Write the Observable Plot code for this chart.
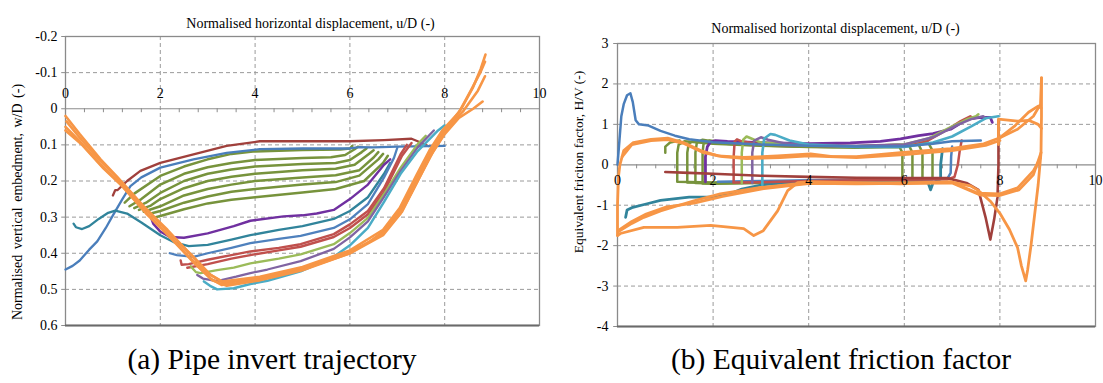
<!DOCTYPE html>
<html><head><meta charset="utf-8">
<script src="https://cdn.jsdelivr.net/npm/d3@7"></script>
<script src="https://cdn.jsdelivr.net/npm/@observablehq/plot@0.6"></script>
<style>
body{margin:0;background:#fff;font-family:"Liberation Serif","Times New Roman",Times,"DejaVu Serif",serif;}
#wrap{position:relative;width:1103px;height:383px;overflow:hidden;}
.panel{position:absolute;top:0;}
.panel svg text{font-family:"Liberation Serif","Times New Roman",Times,"DejaVu Serif",serif;}
.cap{position:absolute;top:342px;font-size:29.5px;line-height:34px;white-space:nowrap;transform:translateX(-50%);color:#000;}
</style></head><body>
<div id="wrap">
  <div id="pa" class="panel" style="left:0px"></div>
  <div id="pb" class="panel" style="left:552px"></div>
  <div class="cap" style="left:272px">(a) Pipe invert trajectory</div>
  <div class="cap" style="left:841px">(b) Equivalent friction factor</div>
</div>
<script>
// ---------- Tick values / labels ----------
const xTicks = [0, 2, 4, 6, 8, 10];
const xMinor = [0.4,0.8,1.2,1.6,2.4,2.8,3.2,3.6,4.4,4.8,5.2,5.6,6.4,6.8,7.2,7.6,8.4,8.8,9.2,9.6];
const aYTicks = [-0.2,-0.1,0,0.1,0.2,0.3,0.4,0.5,0.6];
const aYLabels = ["-0.2","-0.1","0","0.1","0.2","0.3","0.4","0.5","0.6"];
const bYTicks = [3,2,1,0,-1,-2,-3,-4];
const bYLabels = ["3","2","1","0","-1","-2","-3","-4"];
const xTitle = "Normalised horizontal displacement, u/D (-)";
const aYTitle = "Normalised vertical embedment, w/D (-)";
const bYTitle = "Equivalent friciton factor, H/V (-)";

// ---------- Panel (a): [u/D, w/D] ----------
const a_red_top = [[1.0,0.24],[1.05,0.225],[1.1,0.225],[1.3,0.2],[1.58,0.172],[2.0,0.15],[2.7,0.126],[3.4,0.103],[4.1,0.09],[5.0,0.09],[6.0,0.09],[6.72,0.087],[7.3,0.083],[7.43,0.09],[7.65,0.103]];
const a_blue_top = [[0,0.445],[0.15,0.435],[0.3,0.42],[0.5,0.39],[0.67,0.367],[0.85,0.33],[1.0,0.295],[1.2,0.25],[1.37,0.214],[1.6,0.19],[2.0,0.163],[2.7,0.14],[3.4,0.122],[4.1,0.112],[5.0,0.11],[6.0,0.11],[6.2,0.106],[6.5,0.107],[7.0,0.105],[8.0,0.103]];
const a_g1 = [[1.25,0.26],[1.45,0.235],[2.0,0.186],[2.5,0.16],[3.0,0.14],[3.5,0.125],[4.0,0.118],[5.0,0.114],[5.8,0.113],[6.0,0.11],[6.05,0.103]];
const a_g2 = [[1.35,0.27],[1.6,0.25],[2.0,0.21],[2.5,0.18],[3.0,0.162],[3.5,0.15],[4.0,0.142],[5.0,0.136],[5.6,0.134],[5.9,0.128],[6.1,0.112],[6.17,0.105]];
const a_g3 = [[1.45,0.275],[1.7,0.26],[2.0,0.233],[2.5,0.2],[3.0,0.18],[3.5,0.168],[4.0,0.16],[5.0,0.153],[5.7,0.15],[6.0,0.142],[6.25,0.12],[6.35,0.11]];
const a_g4 = [[1.55,0.28],[1.8,0.268],[2.0,0.25],[2.5,0.22],[3.0,0.2],[3.5,0.188],[4.0,0.18],[5.0,0.17],[5.7,0.166],[6.1,0.155],[6.4,0.125],[6.5,0.115]];
const a_g5 = [[1.65,0.285],[2.0,0.27],[2.5,0.24],[3.0,0.222],[3.5,0.21],[4.0,0.2],[5.0,0.19],[5.7,0.184],[6.2,0.17],[6.5,0.135],[6.6,0.12]];
const a_g6 = [[1.8,0.29],[2.0,0.283],[2.5,0.26],[3.0,0.243],[3.5,0.23],[4.0,0.222],[5.0,0.21],[5.7,0.203],[6.2,0.185],[6.6,0.14],[6.7,0.125]];
const a_g7 = [[1.9,0.3],[2.0,0.297],[2.5,0.278],[3.0,0.262],[3.5,0.252],[4.0,0.245],[5.0,0.232],[5.7,0.222],[6.3,0.2],[6.7,0.15],[6.8,0.13]];
const a_teal = [[0.17,0.318],[0.22,0.328],[0.35,0.333],[0.5,0.325],[0.7,0.305],[0.9,0.288],[1.05,0.282],[1.3,0.29],[1.6,0.315],[2.0,0.35],[2.3,0.37],[2.6,0.38],[3.0,0.377],[3.5,0.362],[3.9,0.35],[4.5,0.335],[5.0,0.325],[5.66,0.305],[6.0,0.283],[6.38,0.245],[6.72,0.18],[6.85,0.15]];
const a_purple = [[1.8,0.3],[1.85,0.318],[2.0,0.34],[2.2,0.355],[2.5,0.357],[3.0,0.345],[3.55,0.325],[3.9,0.31],[4.6,0.298],[5.0,0.295],[5.3,0.29],[5.66,0.28],[6.0,0.25],[6.38,0.21],[6.72,0.155],[6.85,0.14]];
const a_blue2 = [[2.2,0.4],[2.35,0.405],[2.7,0.41],[3.0,0.4],[3.5,0.385],[3.9,0.372],[4.5,0.36],[4.96,0.352],[5.66,0.33],[6.0,0.306],[6.38,0.264],[6.72,0.19],[6.93,0.136],[7.0,0.108]];
const a_red2 = [[2.43,0.42],[2.45,0.432],[2.6,0.43],[3.0,0.418],[3.5,0.405],[3.9,0.395],[4.5,0.385],[4.96,0.375],[5.66,0.347],[6.0,0.32],[6.38,0.283],[6.72,0.22],[7.07,0.126],[7.2,0.1]];
const a_red3 = [[2.57,0.44],[3.0,0.43],[3.5,0.415],[3.9,0.405],[4.5,0.392],[4.96,0.382],[5.66,0.355],[6.0,0.33],[6.38,0.292],[6.72,0.23],[7.1,0.13],[7.3,0.095]];
const a_lgreen = [[2.64,0.436],[2.75,0.452],[2.85,0.455],[3.2,0.447],[3.55,0.44],[3.9,0.428],[4.5,0.415],[4.96,0.403],[5.66,0.375],[6.0,0.344],[6.38,0.302],[6.72,0.236],[7.07,0.163],[7.43,0.098],[7.6,0.075]];
const a_purple2 = [[2.78,0.46],[2.9,0.47],[3.2,0.477],[3.6,0.465],[3.9,0.455],[4.26,0.445],[4.96,0.422],[5.66,0.388],[6.0,0.356],[6.38,0.312],[6.72,0.244],[7.07,0.172],[7.43,0.107],[7.77,0.06]];
const a_cyan = [[2.92,0.478],[3.05,0.49],[3.2,0.5],[3.55,0.497],[3.9,0.485],[4.26,0.476],[4.96,0.45],[5.66,0.41],[6.0,0.378],[6.38,0.33],[6.72,0.258],[7.07,0.18],[7.43,0.117],[7.86,0.06],[8.0,0.046]];
const a_orange1 = [[0,0.02],[0.3,0.07],[0.74,0.14],[1.1,0.19],[1.65,0.27],[2.2,0.345],[2.7,0.41],[3.06,0.46],[3.34,0.482],[3.6,0.478],[4.1,0.468],[5.0,0.44],[5.5,0.42],[6.0,0.395],[6.4,0.37],[6.7,0.34],[7.07,0.28],[7.43,0.19],[7.7,0.12],[8.0,0.06],[8.35,0.0],[8.6,-0.06],[8.76,-0.11],[8.86,-0.15]];
const a_orange2 = [[0,0.05],[0.3,0.09],[0.74,0.155],[1.1,0.2],[1.65,0.28],[2.2,0.355],[2.7,0.425],[3.06,0.47],[3.3,0.488],[3.6,0.483],[4.1,0.472],[5.0,0.445],[6.0,0.4],[6.7,0.35],[7.07,0.29],[7.43,0.2],[7.7,0.13],[8.0,0.07],[8.3,0.025],[8.6,0.0],[8.8,-0.02]];
const a_orange3 = [[0,0.06],[0.35,0.1],[0.8,0.165],[1.2,0.215],[1.7,0.29],[2.25,0.36],[2.75,0.43],[3.1,0.475],[3.4,0.49],[4.1,0.475],[5.0,0.447],[6.0,0.4],[6.7,0.345],[7.1,0.285],[7.45,0.195],[7.75,0.12],[8.05,0.055],[8.4,0.005],[8.7,-0.05],[8.85,-0.09]];
const a_orange4 = [[0.02,0.035],[0.3,0.08],[0.7,0.14],[1.05,0.185],[1.6,0.265],[2.15,0.335],[2.65,0.405],[3.0,0.455],[3.3,0.478],[4.1,0.465],[5.0,0.438],[6.0,0.392],[6.7,0.335],[7.05,0.275],[7.4,0.185],[7.68,0.115],[7.95,0.06],[8.3,0.01],[8.55,-0.05],[8.75,-0.1],[8.85,-0.13]];

// ---------- Panel (b): [u/D, H/V] ----------
const b_blue = [[0,0],[0.04,0.6],[0.08,1.2],[0.13,1.5],[0.2,1.72],[0.27,1.77],[0.32,1.55],[0.38,1.1],[0.45,1.0],[0.65,0.97],[0.9,0.84],[1.2,0.72],[1.5,0.63],[2.0,0.56],[3.0,0.5],[4.0,0.47],[5.0,0.45],[6.0,0.46],[6.6,0.52],[7.0,0.58],[7.6,0.6]];
const b_blue2 = [[2.1,-0.42],[3.0,-0.4],[4.0,-0.38],[5.0,-0.37],[6.0,-0.36],[6.9,-0.35],[6.97,-0.2],[6.98,0.2],[7.0,0.45]];
const b_g0 = [[1.0,0.3],[1.0,0.45],[1.1,0.55],[1.3,0.6]];
const b_g1 = [[1.25,-0.42],[1.25,0.3],[1.28,0.5],[1.4,0.58],[1.7,0.55],[2.0,0.52],[3.0,0.47],[4.0,0.44],[5.0,0.42],[5.9,0.44],[5.96,0.3],[5.96,-0.35],[5.0,-0.38],[4.0,-0.4],[3.0,-0.42],[2.0,-0.44],[1.25,-0.42]];
const b_g2 = [[1.46,-0.44],[1.46,0.3],[1.49,0.52],[1.6,0.6],[1.9,0.55],[2.5,0.5],[3.5,0.46],[4.5,0.44],[5.5,0.45],[6.1,0.47],[6.17,0.3],[6.17,-0.35],[5.0,-0.4],[4.0,-0.42],[3.0,-0.43],[2.0,-0.45],[1.46,-0.44]];
const b_g3 = [[1.63,-0.45],[1.63,0.3],[1.66,0.55],[1.78,0.62],[2.1,0.56],[2.8,0.5],[3.8,0.46],[4.8,0.45],[5.8,0.48],[6.3,0.5],[6.38,0.3],[6.38,-0.36],[5.0,-0.41],[4.0,-0.43],[3.0,-0.44],[2.0,-0.46],[1.63,-0.45]];
const b_g4 = [[1.78,-0.46],[1.78,0.3],[1.8,0.52],[1.92,0.6],[2.3,0.55],[3.0,0.5],[4.0,0.46],[5.0,0.46],[6.0,0.5],[6.5,0.55],[6.59,0.35],[6.59,-0.36],[5.5,-0.4],[4.0,-0.43],[3.0,-0.45],[2.0,-0.47],[1.78,-0.46]];
const b_purple = [[1.84,-0.42],[1.84,0.2],[1.88,0.45],[1.95,0.57],[2.05,0.6],[2.3,0.58],[3.0,0.55],[4.0,0.52],[4.87,0.54],[5.5,0.58],[5.92,0.64],[6.3,0.72],[6.6,0.77],[6.97,0.88],[7.32,1.13],[7.6,1.17],[7.8,1.17],[7.84,1.05]];
const b_teal = [[0.17,-1.3],[0.2,-1.12],[0.3,-1.06],[0.6,-0.97],[0.9,-0.88],[1.5,-0.8],[2.0,-0.8],[2.3,-0.74],[2.6,-0.6],[3.0,-0.5],[3.5,-0.45],[4.0,-0.42],[5.0,-0.4],[6.0,-0.4],[6.5,-0.45],[6.55,-0.62],[6.6,-0.45],[6.76,-0.35],[6.76,0.0],[6.8,0.4]];
const b_red_top = [[2.43,-0.44],[2.43,0.2],[2.45,0.57],[2.5,0.63],[2.6,0.58],[3.0,0.5],[4.0,0.47],[5.0,0.45],[6.0,0.47],[6.5,0.6],[6.97,0.92],[7.18,1.08],[7.38,1.2],[7.45,1.15]];
const b_red_bot = [[2.43,-0.44],[3.0,-0.43],[4.0,-0.4],[5.0,-0.38],[6.0,-0.37],[6.9,-0.36],[7.05,-0.3],[7.12,0.0],[7.16,0.35],[7.2,0.6]];
const b_lgreen = [[2.6,-0.45],[2.6,0.3],[2.63,0.62],[2.7,0.7],[2.8,0.65],[3.0,0.55],[4.0,0.48],[5.0,0.46],[6.0,0.5],[6.5,0.65],[7.0,0.95],[7.3,1.12],[7.5,1.2],[7.55,1.25]];
const b_purple2 = [[2.82,-0.45],[2.82,0.3],[2.86,0.6],[3.0,0.68],[3.15,0.62],[3.5,0.53],[4.0,0.5],[5.0,0.47],[6.0,0.5],[6.6,0.68],[7.1,0.98],[7.4,1.13],[7.65,1.2],[7.7,1.15]];
const b_cyan = [[3.03,-0.5],[3.03,0.3],[3.07,0.65],[3.2,0.76],[3.3,0.74],[3.6,0.6],[4.0,0.5],[5.0,0.44],[6.0,0.44],[6.6,0.55],[7.0,0.7],[7.4,0.95],[7.7,1.15],[7.97,1.2]];
const b_darkred = [[1.0,-0.18],[1.5,-0.2],[2.0,-0.22],[3.0,-0.27],[4.0,-0.3],[5.0,-0.32],[6.0,-0.33],[6.9,-0.33],[7.3,-0.45],[7.55,-0.62],[7.7,-1.3],[7.8,-1.85],[7.88,-1.35],[7.95,-0.8],[7.97,0.0],[7.97,1.1]];
const b_orange1 = [[0,-1.75],[0,-1.0],[0.02,-0.3],[0.05,0.0],[0.13,0.35],[0.33,0.55],[0.7,0.63],[1.05,0.66],[1.38,0.55],[1.74,0.35],[2.1,0.22],[2.64,0.18],[3.35,0.22],[4.04,0.27],[4.5,0.2],[5.0,0.2],[5.92,0.3],[6.97,0.4],[7.66,0.52],[8.0,0.67],[8.37,0.88],[8.7,1.2],[8.85,1.5],[8.87,2.15]];
const b_orange2 = [[8.87,2.15],[8.87,1.2],[8.86,0.3],[8.8,-0.5],[8.72,-1.3],[8.65,-2.0],[8.58,-2.6],[8.54,-2.87],[8.45,-2.5],[8.37,-2.05],[8.2,-1.6],[8.0,-1.2],[7.8,-0.9],[7.66,-0.75],[7.53,-0.62],[7.38,-0.52],[6.97,-0.42],[5.92,-0.47],[4.87,-0.44],[4.04,-0.42],[3.77,-0.44],[3.56,-0.64],[3.35,-1.14],[3.05,-1.63],[2.85,-1.75],[2.64,-1.58],[1.95,-1.5],[1.25,-1.55],[0.55,-1.55],[0.06,-1.7],[0,-1.75]];
const b_orange3 = [[0.02,-1.65],[0.3,-1.45],[0.55,-1.3],[0.9,-1.14],[1.6,-0.89],[2.15,-0.72],[3.0,-0.56],[3.68,-0.48],[4.04,-0.45],[5.0,-0.45],[6.0,-0.44],[7.0,-0.43],[7.53,-0.7],[8.0,-0.72],[8.37,-0.57],[8.7,-0.15],[8.85,0.17]];
const b_orange4 = [[0.05,-1.6],[0.3,-1.4],[0.6,-1.22],[1.0,-1.05],[1.6,-0.95],[2.2,-0.78],[3.0,-0.6],[3.7,-0.5],[4.04,-0.46],[5.0,-0.47],[6.0,-0.46],[7.0,-0.45],[7.6,-0.75],[8.0,-0.76],[8.4,-0.62],[8.7,-0.25],[8.86,0.3]];
const b_orange5 = [[7.97,0.5],[7.97,1.13],[8.37,1.08],[8.6,1.1],[8.8,1.0],[8.87,0.9]];
const b_orange6 = [[8.0,0.67],[8.3,0.95],[8.6,1.3],[8.8,1.45],[8.86,1.4]];
const b_orange7 = [[0.1,0.2],[0.3,0.5],[0.7,0.6],[1.05,0.62],[1.4,0.52],[1.8,0.3],[2.2,0.2],[2.7,0.15],[3.4,0.18],[4.0,0.22],[5.0,0.18],[6.0,0.25],[7.0,0.35],[7.7,0.48],[8.0,0.6]];

// ---------- styles ----------
const C = {orange:"#F79646", blue:"#4A7EBB", darkred:"#A0403C", red:"#C0504D", olive:"#77933C",
  lgreen:"#9BBB59", purple:"#7030A0", purple2:"#8064A2", teal:"#31849B", cyan:"#4BACC6", blue2:"#4F81BD"};

const seriesA = [
  [a_g7,C.olive,2.5],[a_g6,C.olive,2.5],[a_g5,C.olive,2.5],[a_g4,C.olive,2.5],[a_g3,C.olive,2.5],[a_g2,C.olive,2.5],[a_g1,C.olive,2.5],
  [a_red_top,C.darkred,2.3],[a_blue_top,C.blue,2.3],[a_teal,C.teal,2.3],[a_purple,C.purple,2.4],[a_blue2,C.blue2,2.3],
  [a_red2,C.red,2.4],[a_red3,C.red,2.4],[a_lgreen,C.lgreen,2.3],[a_purple2,C.purple2,2.3],[a_cyan,C.cyan,2.5],
  [a_orange1,C.orange,2.6],[a_orange2,C.orange,2.6],[a_orange3,C.orange,2.6],[a_orange4,C.orange,2.6]
];
const seriesB = [
  [b_g0,C.olive,2.5],[b_g1,C.olive,2.5],[b_g2,C.olive,2.5],[b_g3,C.olive,2.5],[b_g4,C.olive,2.5],
  [b_teal,C.teal,2.8],[b_blue2,C.blue2,2.5],[b_red_bot,C.red,2.5],[b_purple,C.purple,2.8],
  [b_red_top,C.red,2.5],[b_lgreen,C.lgreen,2.5],[b_purple2,C.purple2,2.5],[b_cyan,C.cyan,2.6],
  [b_blue,C.blue,2.5],[b_darkred,C.darkred,2.6],
  [b_orange7,C.orange,2.8],[b_orange4,C.orange,2.8],[b_orange3,C.orange,2.8],[b_orange1,C.orange,2.8],[b_orange2,C.orange,2.8],[b_orange5,C.orange,2.8],[b_orange6,C.orange,2.8]
];

const grid = {stroke:"#9a9a9a", strokeWidth:1, strokeDasharray:"4,3"};
const FONT = "'Liberation Serif', 'Times New Roman', Times, 'DejaVu Serif', serif";
const font = {fontFamily:FONT, fontSize:"14px", background:"transparent", color:"#000"};
const lineMarks = (list) => list.map(([pts,color,w]) => Plot.line(pts, {x:d=>d[0], y:d=>d[1], stroke:color, strokeWidth:w, strokeLinejoin:"round", strokeLinecap:"round"}));

// Panel (a)
const plotA = Plot.plot({
  width:550, height:335, marginLeft:65, marginRight:11, marginTop:36, marginBottom:10,
  style:font,
  x:{domain:[0,10], axis:null},
  y:{domain:[-0.2,0.6], reverse:true, axis:null},
  marks:[
    Plot.ruleY(aYTicks.filter(v=>v!==0 && v!==-0.2 && v!==0.6), grid),
    Plot.ruleX(xTicks.filter(v=>v!==0 && v!==10), grid),
    Plot.ruleY([0], {stroke:"#8c8c8c", strokeWidth:1.2}),
    Plot.ruleX(xMinor, {x:d=>d, y1:0, y2:0.011, stroke:"#8c8c8c"}),
    Plot.ruleY(aYTicks, {y:d=>d, x1:-0.08, x2:0, stroke:"#8c8c8c"}),
    Plot.frame({stroke:"#8a8a8a", strokeWidth:1.3}),
    Plot.ruleY([0.6], {stroke:"#6a6a6a", strokeWidth:2}),
    ...lineMarks(seriesA),
    Plot.text(xTicks, {x:d=>d, y:0, dy:-15, text:d=>String(d), fontSize:14}),
    Plot.text(aYTicks, {x:0, y:d=>d, dx:-8, text:(d,i)=>aYLabels[i], textAnchor:"end", fontSize:14}),
    Plot.text([xTitle], {frameAnchor:"top", dx:8, dy:-18, text:d=>d, fontSize:14}),
    Plot.text([aYTitle], {frameAnchor:"left", dx:-48, dy:21, rotate:-90, textAnchor:"middle", text:d=>d, fontSize:14})
  ]
});
d3.select(plotA).selectAll("text").filter(function(){ return this.textContent === aYTitle; }).style("word-spacing","2px");
document.getElementById("pa").appendChild(plotA);

// Panel (b)
const plotB = Plot.plot({
  width:551, height:335, marginLeft:65, marginRight:8, marginTop:43, marginBottom:9,
  style:font,
  x:{domain:[0,10], axis:null},
  y:{domain:[-4,3], axis:null},
  marks:[
    Plot.ruleY(bYTicks.filter(v=>v!==0 && v!==3 && v!==-4), grid),
    Plot.ruleX(xTicks.filter(v=>v!==0 && v!==10), grid),
    Plot.ruleY([0], {stroke:"#8c8c8c", strokeWidth:1.2}),
    Plot.ruleX(xMinor, {x:d=>d, y1:0, y2:-0.1, stroke:"#8c8c8c"}),
    Plot.ruleY(bYTicks, {y:d=>d, x1:-0.08, x2:0, stroke:"#8c8c8c"}),
    Plot.frame({stroke:"#8a8a8a", strokeWidth:1.3}),
    Plot.ruleY([-4], {stroke:"#6a6a6a", strokeWidth:2}),
    ...lineMarks(seriesB),
    Plot.text(xTicks, {x:d=>d, y:0, dy:16, text:d=>String(d), fontSize:14}),
    Plot.text(bYTicks, {x:0, y:d=>d, dx:-9, text:(d,i)=>bYLabels[i], textAnchor:"end", fontSize:14}),
    Plot.text([xTitle], {frameAnchor:"top", dx:-21, dy:-20, text:d=>d, fontSize:14}),
    Plot.text([bYTitle], {frameAnchor:"left", dx:-39, dy:-23, rotate:-90, textAnchor:"middle", text:d=>d, fontSize:13.5})
  ]
});
document.getElementById("pb").appendChild(plotB);
</script>
</body></html>
